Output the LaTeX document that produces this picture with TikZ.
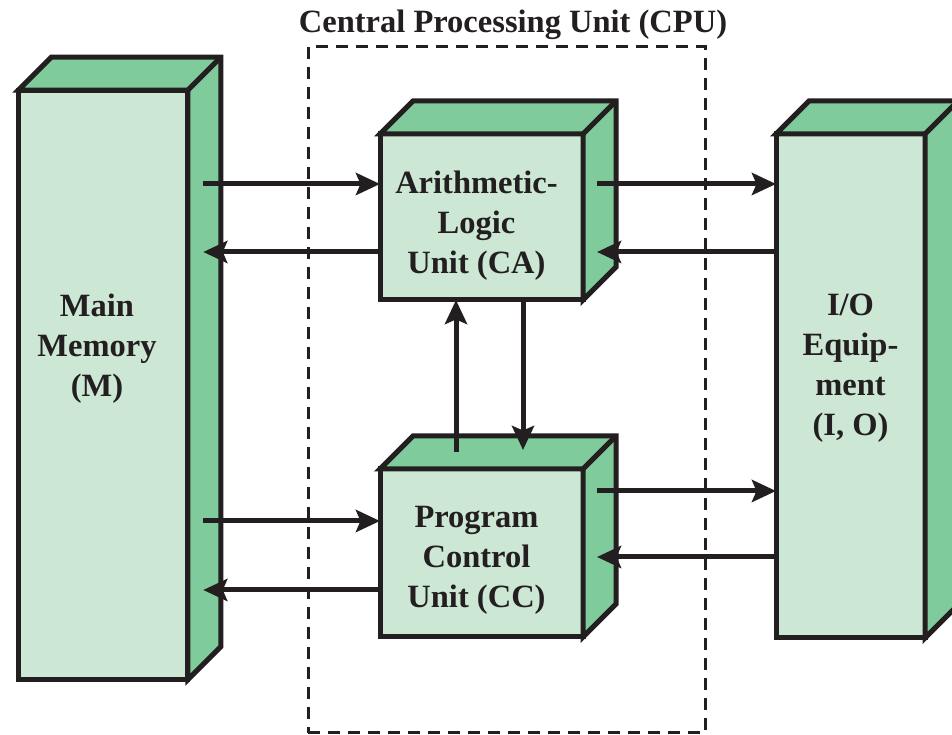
\documentclass[tikz,border=0pt]{standalone}
\usepackage{fontspec}
\setmainfont{Liberation Serif}
\usetikzlibrary{arrows.meta, positioning}

\definecolor{frontgreen}{HTML}{CDE7D5}
\definecolor{sidegreen}{HTML}{80CB9B}
\definecolor{inkblack}{HTML}{231F20}

\newcommand{\blockdepth}{0.66}
% top and right faces of a block
\newcommand{\blocksides}[1]{%
	\path[sideface] (#1.north west) -- ++(\blockdepth,\blockdepth)
		-- ([shift={(\blockdepth,\blockdepth)}]#1.north east)
		-- ([shift={(\blockdepth,\blockdepth)}]#1.south east)
		-- (#1.south east) -- (#1.north east) -- cycle;
	\draw[sideface] (#1.north east) -- ++(\blockdepth,\blockdepth);
}

\begin{document}
\begin{tikzpicture}[
			font=\bfseries\fontsize{18.5}{22.8}\selectfont,
			block/.style={
				rectangle,
				draw=inkblack,
				fill=frontgreen,
				line width=0.1cm,
				outer sep=0pt,
				inner sep=0pt
			},
			sideface/.style={
				draw=inkblack,
				fill=sidegreen,
				line width=0.1cm
			},
			arrow/.style={
				-{Stealth[length=0.48cm, width=0.44cm, inset=0.09cm]},
				draw=inkblack,
				line width=0.1cm
			},
			cpubox/.style={
				draw=inkblack,
				dash pattern=on 0.24cm off 0.16cm,
				line width=0.06cm,
				minimum width=7.94cm,
				minimum height=13.72cm,
				outer sep=0pt
			},
			blocktext/.style={
				align=center,
				text=inkblack
			}
			]
			
			\useasboundingbox (0,0) rectangle (19.04,14.7);
			
			% CPU frame
			\node[cpubox] (cpu) at (10.13,6.9) {};
			\node[blocktext, anchor=base] (cputitle) at ([xshift=0.13cm, yshift=0.28cm]cpu.north) {Central Processing Unit (CPU)};
			
			% Main Memory (left)
			\node[block, minimum width=3.39cm, minimum height=11.79cm] (mm) at (2.06,7.0) {};
			\blocksides{mm}
			\node[blocktext] (mmtext) at ([xshift=-0.12cm, yshift=0.72cm]mm.center) {Main\\Memory\\(M)};
			
			% ALU (top middle)
			\node[block, minimum width=4.06cm, minimum height=3.32cm] (alu) at (9.63,10.36) {};
			\blocksides{alu}
			\node[blocktext] (alutext) at ([xshift=-0.1cm, yshift=-0.18cm]alu.center) {Arithmetic-\\Logic\\Unit (CA)};
			
			% Program control (bottom middle)
			\node[block, minimum width=4.06cm, minimum height=3.36cm, below=3.38cm of alu] (pcu) {};
			\blocksides{pcu}
			\node[blocktext] (pcutext) at ([xshift=-0.1cm, yshift=-0.14cm]pcu.center) {Program\\Control\\Unit (CC)};
			
			% I/O (right)
			\node[block, minimum width=2.98cm, minimum height=10.08cm] (io) at (17.01,6.98) {};
			\blocksides{io}
			\node[blocktext] (iotext) at ([yshift=0.36cm]io.center) {I/O\\Equip-\\ment\\(I, O)};
			
			% Memory <-> ALU
			\draw[arrow] ([xshift=0.31cm, yshift=0.66cm]alu.west -| mm.east) -- ([yshift=0.66cm]alu.west);
			\draw[arrow] ([yshift=-0.70cm]alu.west) -- ([xshift=0.31cm, yshift=-0.70cm]alu.west -| mm.east);
			
			% ALU <-> I/O
			\draw[arrow] ([xshift=0.28cm, yshift=0.66cm]alu.east) -- ([yshift=0.66cm]alu.east -| io.west);
			\draw[arrow] ([yshift=-0.70cm]alu.east -| io.west) -- ([xshift=0.28cm, yshift=-0.70cm]alu.east);
			
			% Memory <-> control
			\draw[arrow] ([xshift=0.31cm, yshift=0.64cm]pcu.west -| mm.east) -- ([yshift=0.64cm]pcu.west);
			\draw[arrow] ([yshift=-0.74cm]pcu.west) -- ([xshift=0.31cm, yshift=-0.74cm]pcu.west -| mm.east);
			
			% control <-> I/O
			\draw[arrow] ([xshift=0.28cm, yshift=1.24cm]pcu.east) -- ([yshift=1.24cm]pcu.east -| io.west);
			\draw[arrow] ([yshift=-0.08cm]pcu.east -| io.west) -- ([xshift=0.28cm, yshift=-0.08cm]pcu.east);
			
			% ALU <-> control
			\draw[arrow] ([xshift=-0.51cm, yshift=0.34cm]pcu.north) -- ([xshift=-0.51cm]alu.south);
			\draw[arrow] ([xshift=0.83cm]alu.south) -- ([xshift=0.83cm, yshift=0.38cm]pcu.north);
			
		\end{tikzpicture}
\end{document}
